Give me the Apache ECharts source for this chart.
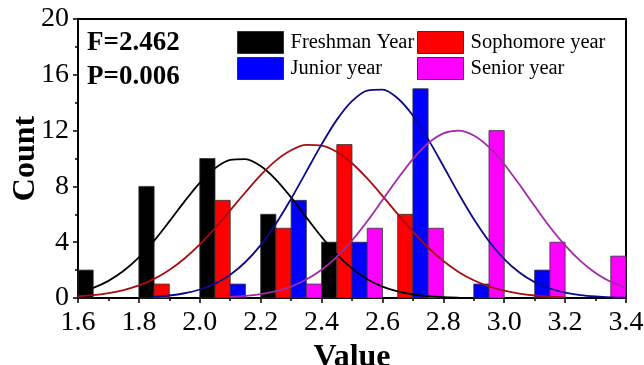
<!DOCTYPE html>
<html>
<head>
<meta charset="utf-8">
<script src="https://cdn.jsdelivr.net/npm/echarts@6/dist/echarts.min.js"></script>
<style>
html,body{margin:0;padding:0;background:#fff;}
#chart{width:644px;height:365px;}
</style>
</head>
<body>
<div id="chart"></div>
<script>
// ---- data ----
const binStarts = [1.6, 1.8, 2.0, 2.2, 2.4, 2.6, 2.8, 3.0, 3.2];
const freshman  = [2, 8, 10, 6, 4, 0, 0, 0, 0];
const sophomore = [0, 1, 7, 5, 11, 6, 0, 0, 0];
const junior    = [0, 0, 1, 7, 4, 15, 1, 2, 0];
const senior    = [0, 0, 0, 1, 5, 5, 12, 4, 3];

const seriesNames = ['Freshman Year', 'Sophomore year', 'Junior year', 'Senior year'];

// fitted normal curves at 0.05 steps
const curveX = [1.60, 1.65, 1.70, 1.75, 1.80, 1.85, 1.90, 1.95, 2.00, 2.05, 2.10, 2.15, 2.20, 2.25, 2.30, 2.35, 2.40, 2.45, 2.50,
                2.55, 2.60, 2.65, 2.70, 2.75, 2.80, 2.85, 2.90, 2.95, 3.00, 3.05, 3.10, 3.15, 3.20, 3.25, 3.30, 3.35, 3.40];
const freshmanFit  = [0.41, 0.73, 1.23, 1.95, 2.91, 4.11, 5.49, 6.93, 8.26, 9.30, 9.90, 9.96, 9.46, 8.49, 7.21, 5.78, 4.38, 3.13, 2.12,
                      1.35, 0.82, 0.47, 0.25, 0.13, 0.06, 0.03, null, null, null, null, null, null, null, null, null, null, null];
const sophomoreFit = [0.12, 0.20, 0.35, 0.57, 0.90, 1.37, 2.01, 2.83, 3.84, 5.00, 6.28, 7.58, 8.81, 9.85, 10.59, 10.97, 10.92, 10.47, 9.66,
                      8.57, 7.32, 6.02, 4.76, 3.62, 2.65, 1.87, 1.27, 0.83, 0.52, 0.31, 0.18, 0.10, 0.05, null, null, null, null];
const juniorFit    = [null, null, null, null, null, 0.09, 0.18, 0.34, 0.61, 1.03, 1.67, 2.58, 3.79, 5.32, 7.11, 9.06, 11.01, 12.77, 14.11,
                      14.87, 14.94, 14.32, 13.08, 11.39, 9.46, 7.49, 5.66, 4.07, 2.79, 1.83, 1.14, 0.68, 0.39, 0.21, 0.11, 0.05, 0.02];
const seniorFit    = [null, null, null, null, null, null, null, null, null, null, 0.08, 0.15, 0.28, 0.49, 0.82, 1.32, 2.02, 2.95, 4.12,
                      5.50, 7.02, 8.55, 9.96, 11.09, 11.80, 12.0, 11.65, 10.81, 9.59, 8.13, 6.59, 5.09, 3.77, 2.66, 1.80, 1.16, 0.72];

const xTicks = { min: 1.6, max: 3.4, interval: 0.2 };
const yTicks = { min: 0, max: 20, interval: 4 };

// ---- styles ----
const FONT = "'Times New Roman', 'Liberation Serif', serif";
const barColors = ['#000000', '#ff0000', '#0000ff', '#ff00ff'];
const lineColors = ['#000000', '#a50d12', '#0a0a8a', '#a22aa8'];
const barW = 0.05;

function barSeries(idx, values) {
  return {
    name: seriesNames[idx],
    type: 'custom',
    itemStyle: { color: barColors[idx], borderColor: '#333', borderWidth: 0.8 },
    encode: { x: 0, y: 1 },
    z: 2,
    renderItem: function (params, api) {
      const x0 = api.value(0) + idx * barW;
      const h = api.value(1);
      if (!h) return null;
      const p0 = api.coord([x0, h]);
      const p1 = api.coord([x0 + barW, 0]);
      return {
        type: 'rect',
        shape: { x: p0[0], y: p0[1], width: p1[0] - p0[0], height: p1[1] - p0[1] },
        style: { fill: barColors[idx], stroke: '#333', lineWidth: 0.8 }
      };
    },
    data: binStarts.map((b, i) => [b, values[i]])
  };
}

function lineSeries(idx, values) {
  const pts = [];
  curveX.forEach((x, i) => { if (values[i] != null) pts.push([x, values[i]]); });
  return {
    name: seriesNames[idx] + ' fit',
    type: 'line',
    smooth: 0.3,
    showSymbol: false,
    z: 3,
    lineStyle: { color: lineColors[idx], width: 1.8 },
    itemStyle: { color: lineColors[idx] },
    data: pts
  };
}

const chart = echarts.init(document.getElementById('chart'), null, { renderer: 'canvas' });

const legendCommon = {
  orient: 'vertical',
  top: 31,
  padding: 0,
  itemWidth: 46,
  itemHeight: 22,
  itemGap: 3,
  icon: 'rect',
  selectedMode: false,
  itemStyle: { borderColor: '#333', borderWidth: 1 },
  textStyle: { fontFamily: FONT, fontSize: 20.5, color: '#000', padding: [0, 0, 0, 2] }
};

chart.setOption({
  animation: false,
  backgroundColor: '#fff',
  grid: {
    left: 78, top: 19, width: 548, height: 279,
    containLabel: false, outerBoundsMode: 'none',
    show: true, borderColor: '#000', borderWidth: 2, backgroundColor: 'transparent'
  },
  legend: [
    Object.assign({ left: 237, data: [seriesNames[0], seriesNames[2]] }, legendCommon),
    Object.assign({ left: 417, data: [seriesNames[1], seriesNames[3]] }, legendCommon)
  ],
  graphic: [
    { type: 'text', left: 87, top: 30, style: { text: 'F=2.462', fontFamily: FONT, fontWeight: 'bold', fontSize: 27, fill: '#000' } },
    { type: 'text', left: 87, top: 64, style: { text: 'P=0.006', fontFamily: FONT, fontWeight: 'bold', fontSize: 27, fill: '#000' } }
  ],
  xAxis: {
    type: 'value',
    min: xTicks.min, max: xTicks.max, interval: xTicks.interval,
    name: 'Value', nameLocation: 'middle', nameGap: 34,
    nameTextStyle: { fontFamily: FONT, fontWeight: 'bold', fontSize: 32, color: '#000' },
    axisLine: { show: true, onZero: false, lineStyle: { color: '#000', width: 2 } },
    axisTick: { show: true, inside: false, length: 5, lineStyle: { color: '#000', width: 1.5 } },
    minorTick: { show: true, splitNumber: 2, length: 3, lineStyle: { color: '#000', width: 1.5 } },
    splitLine: { show: false },
    axisLabel: { margin: 11, fontFamily: FONT, fontSize: 28, color: '#000', formatter: v => v.toFixed(1) }
  },
  yAxis: {
    type: 'value',
    min: yTicks.min, max: yTicks.max, interval: yTicks.interval,
    name: 'Count', nameLocation: 'middle', nameGap: 36, nameMoveOverlap: false,
    nameTextStyle: { fontFamily: FONT, fontWeight: 'bold', fontSize: 32, color: '#000' },
    axisLine: { show: true, lineStyle: { color: '#000', width: 2 } },
    axisTick: { show: true, inside: false, length: 5, lineStyle: { color: '#000', width: 1.5 } },
    minorTick: { show: true, splitNumber: 2, length: 3, lineStyle: { color: '#000', width: 1.5 } },
    splitLine: { show: false },
    axisLabel: { margin: 9, fontFamily: FONT, fontSize: 28, color: '#000' }
  },
  series: [
    barSeries(0, freshman),
    barSeries(1, sophomore),
    barSeries(2, junior),
    barSeries(3, senior),
    lineSeries(0, freshmanFit),
    lineSeries(1, sophomoreFit),
    lineSeries(2, juniorFit),
    lineSeries(3, seniorFit)
  ]
});
</script>
</body>
</html>
